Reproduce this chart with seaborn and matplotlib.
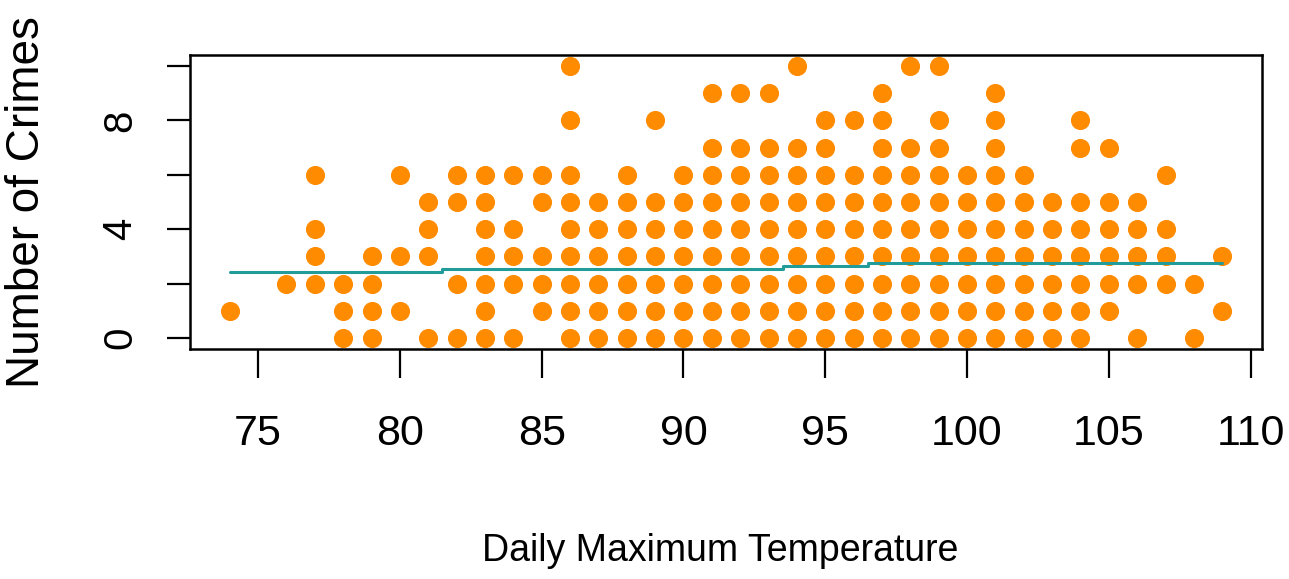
import matplotlib
matplotlib.use("Agg")
import matplotlib.pyplot as plt
import seaborn as sns
import pandas as pd

# ---- data ----
temperature = [
    74,
    76,
    77, 77, 77, 77,
    78, 78, 78,
    79, 79, 79, 79,
    80, 80, 80,
    81, 81, 81, 81,
    82, 82, 82, 82,
    83, 83, 83, 83, 83, 83, 83,
    84, 84, 84, 84, 84,
    85, 85, 85, 85, 85,
    86, 86, 86, 86, 86, 86, 86, 86, 86,
    87, 87, 87, 87, 87, 87,
    88, 88, 88, 88, 88, 88, 88,
    89, 89, 89, 89, 89, 89, 89,
    90, 90, 90, 90, 90, 90, 90,
    91, 91, 91, 91, 91, 91, 91, 91, 91,
    92, 92, 92, 92, 92, 92, 92, 92, 92,
    93, 93, 93, 93, 93, 93, 93, 93, 93,
    94, 94, 94, 94, 94, 94, 94, 94, 94,
    95, 95, 95, 95, 95, 95, 95, 95, 95,
    96, 96, 96, 96, 96, 96, 96, 96,
    97, 97, 97, 97, 97, 97, 97, 97, 97, 97,
    98, 98, 98, 98, 98, 98, 98, 98, 98,
    99, 99, 99, 99, 99, 99, 99, 99, 99, 99,
    100, 100, 100, 100, 100, 100, 100,
    101, 101, 101, 101, 101, 101, 101, 101, 101, 101,
    102, 102, 102, 102, 102, 102, 102,
    103, 103, 103, 103, 103, 103,
    104, 104, 104, 104, 104, 104, 104, 104,
    105, 105, 105, 105, 105, 105,
    106, 106, 106, 106, 106,
    107, 107, 107, 107,
    108, 108,
    109, 109,
]
crimes = [
    1,
    2,
    2, 3, 4, 6,
    0, 1, 2,
    0, 1, 2, 3,
    1, 3, 6,
    0, 3, 4, 5,
    0, 2, 5, 6,
    0, 1, 2, 3, 4, 5, 6,
    0, 2, 3, 4, 6,
    1, 2, 3, 5, 6,
    0, 1, 2, 3, 4, 5, 6, 8, 10,
    0, 1, 2, 3, 4, 5,
    0, 1, 2, 3, 4, 5, 6,
    0, 1, 2, 3, 4, 5, 8,
    0, 1, 2, 3, 4, 5, 6,
    0, 1, 2, 3, 4, 5, 6, 7, 9,
    0, 1, 2, 3, 4, 5, 6, 7, 9,
    0, 1, 2, 3, 4, 5, 6, 7, 9,
    0, 1, 2, 3, 4, 5, 6, 7, 10,
    0, 1, 2, 3, 4, 5, 6, 7, 8,
    0, 1, 2, 3, 4, 5, 6, 8,
    0, 1, 2, 3, 4, 5, 6, 7, 8, 9,
    0, 1, 2, 3, 4, 5, 6, 7, 10,
    0, 1, 2, 3, 4, 5, 6, 7, 8, 10,
    0, 1, 2, 3, 4, 5, 6,
    0, 1, 2, 3, 4, 5, 6, 7, 8, 9,
    0, 1, 2, 3, 4, 5, 6,
    0, 1, 2, 3, 4, 5,
    0, 1, 2, 3, 4, 5, 7, 8,
    1, 2, 3, 4, 5, 7,
    0, 2, 3, 4, 5,
    2, 3, 4, 6,
    0, 2,
    1, 3,
]

# fitted step line (breakpoints and levels)
fit_temperature = [74, 81.5, 93.5, 96.5, 109]
fit_crimes = [2.42, 2.53, 2.65, 2.77, 2.77]

x_ticks = [75, 80, 85, 90, 95, 100, 105, 110]
y_ticks = [0, 2, 4, 6, 8, 10]
y_tick_labels = ["0", "", "4", "", "8", ""]

points = pd.DataFrame({"temp": temperature, "crimes": crimes})
fit = pd.DataFrame({"temp": fit_temperature, "crimes": fit_crimes})

sns.set_style("ticks")
plt.rcParams["font.family"] = ["Liberation Sans", "DejaVu Sans"]
plt.rcParams["text.color"] = "black"
plt.rcParams["axes.labelcolor"] = "black"

fig = plt.figure(figsize=(12.89, 5.79), dpi=100)
ax = fig.add_axes([190 / 1289, 1 - 349 / 579, (1262 - 190) / 1289, (349 - 55) / 579])

sns.scatterplot(data=points, x="temp", y="crimes", ax=ax, color="#FF8C00",
                s=190, linewidth=0, zorder=2)
sns.lineplot(data=fit, x="temp", y="crimes", ax=ax, color="#229B9B",
             linewidth=2.2, drawstyle="steps-post", zorder=3)

ax.set_xlim(72.6, 110.4)
ax.set_ylim(-0.4, 10.4)

ax.set_xticks(x_ticks)
ax.set_xticklabels([str(t) for t in x_ticks], fontsize=31)
ax.set_yticks(y_ticks)
ax.set_yticklabels(y_tick_labels, fontsize=29, rotation=90, va="center")

ax.tick_params(axis="x", length=21, width=1.6, pad=26, colors="black")
ax.tick_params(axis="y", length=16.5, width=1.6, pad=20, colors="black")

for s in ax.spines.values():
    s.set_visible(True)
    s.set_linewidth(1.8)
    s.set_color("black")

ax.set_xlabel("Daily Maximum Temperature", fontsize=27)
ax.xaxis.set_label_coords(0.495, (349 - 551) / 294)
ax.xaxis.label.set_va("center")
ax.set_ylabel("Number of Crimes", fontsize=33)
ax.yaxis.set_label_coords((27 - 190) / 1072, 0.5)
ax.yaxis.label.set_va("center")

fig.savefig("out.png", dpi=100)
